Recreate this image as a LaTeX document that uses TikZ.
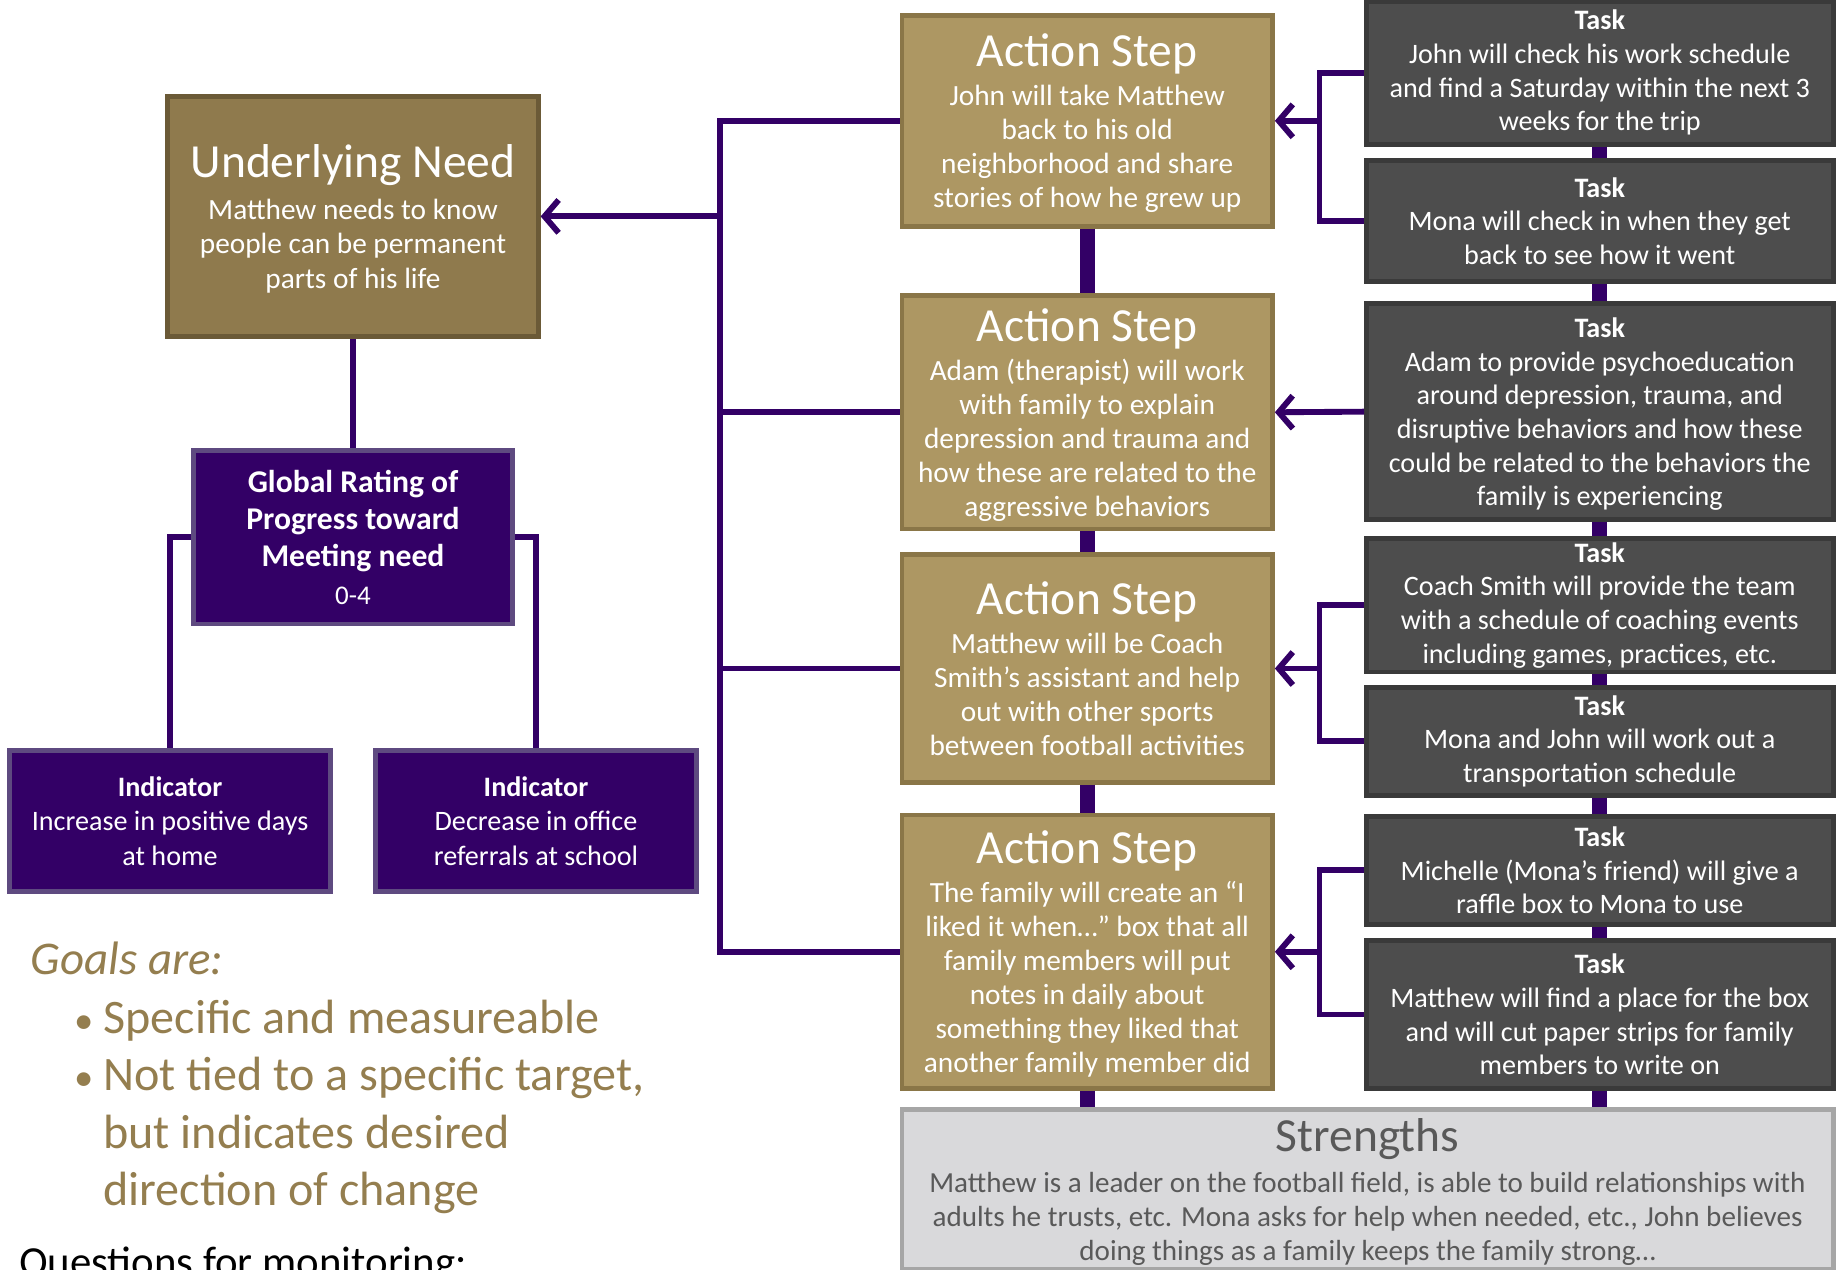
\documentclass[tikz,border=0pt]{standalone}
\usepackage{fontspec}
\setmainfont{Carlito}
\usetikzlibrary{arrows.meta,positioning}

\definecolor{needfill}{RGB}{143,122,77}
\definecolor{needline}{RGB}{107,90,55}
\definecolor{stepfill}{RGB}{173,151,99}
\definecolor{stepline}{RGB}{138,118,72}
\definecolor{purp}{RGB}{51,0,102}
\definecolor{purpline}{RGB}{94,74,128}
\definecolor{taskfill}{RGB}{77,77,77}
\definecolor{taskline}{RGB}{58,58,58}
\definecolor{strfill}{RGB}{217,217,219}
\definecolor{strline}{RGB}{166,166,166}
\definecolor{strtext}{RGB}{89,89,89}
\definecolor{goaltext}{RGB}{148,126,79}

\newcommand\cardbody{\fontsize{25}{29}\selectfont}
\newcommand\cardtitle{\fontsize{40.5}{40.5}\selectfont}
\newcommand\taskbody{\fontsize{24}{28.7}\selectfont}
\newcommand\goalbullet{\makebox[28pt][l]{\hspace{3pt}\fontsize{33}{33}\selectfont•}}

\begin{document}
\begin{tikzpicture}[x=1pt,y=-1pt,
  every node/.style={align=center, inner sep=0pt},
  card/.style={draw, line width=4pt, text=white, font=\cardbody},
  needbox/.style={card, fill=needfill, draw=needline, minimum width=316pt, minimum height=205pt, text depth=-8pt},
  ratebox/.style={card, fill=purp, draw=purpline, minimum width=272pt, minimum height=148pt, font=\fontsize{27}{31.8}\selectfont\bfseries, text depth=-4pt},
  indbox/.style={card, fill=purp, draw=purpline, minimum width=274pt, minimum height=120pt, font=\fontsize{24}{29.5}\selectfont, text depth=-5pt},
  stepbox/.style={card, fill=stepfill, draw=stepline, minimum width=316pt, text depth=-13pt},
  taskbox/.style={card, fill=taskfill, draw=taskline, minimum width=398pt, font=\taskbody},
  strbox/.style={card, fill=strfill, draw=strline, text=strtext, minimum width=794pt, minimum height=136pt, font=\fontsize{24.8}{29}\selectfont, text depth=-1pt},
  link/.style={draw=purp, line width=5pt},
  arrowlink/.style={link, -{Straight Barb[length=12pt,width=28pt]}},
  stepspine/.style={draw=purp, line width=13pt},
  taskspine/.style={draw=purp, line width=13pt},
  goalline/.style={text=goaltext, font=\fontsize{41}{49}\selectfont, align=left, anchor=base west}
]
\useasboundingbox (0,0) rectangle (1568,1082);

% left side
\node[needbox] (need) at (301,184.5) {{\cardtitle Underlying Need}\\[7pt]Matthew needs to know\\people can be permanent\\parts of his life};
\node[ratebox] (rate) at (301,458) {Global Rating of\\Progress toward\\Meeting need\\{\mdseries\fontsize{23}{28}\selectfont 0-4}};
\node[indbox] (ind1) at (145,700) {\textbf{Indicator}\\Increase in positive days\\at home};
\node[indbox] (ind2) at (457,700) {\textbf{Indicator}\\Decrease in office\\referrals at school};

% action steps
\node[stepbox, minimum height=180pt, text depth=-6pt] (step1) at (927,103) {{\cardtitle Action Step}\\[4pt]John will take Matthew\\back to his old\\neighborhood and share\\stories of how he grew up};
\node[stepbox, minimum height=199pt] (step2) at (927,351.5) {{\cardtitle Action Step}\\[4pt]Adam (therapist) will work\\with family to explain\\depression and trauma and\\how these are related to the\\aggressive behaviors};
\node[stepbox, minimum height=194pt, text depth=-8pt] (step3) at (927,570) {{\cardtitle Action Step}\\[4pt]Matthew will be Coach\\Smith’s assistant and help\\out with other sports\\between football activities};
\node[stepbox, minimum height=233pt] (step4) at (927,811.5) {{\cardtitle Action Step}\\[4pt]The family will create an “I\\liked it when…” box that all\\family members will put\\notes in daily about\\something they liked that\\another family member did};

% tasks
\node[taskbox, minimum height=122pt] (task1) at (1364,62) {\textbf{Task}\\John will check his work schedule\\and find a Saturday within the next 3\\weeks for the trip};
\node[taskbox, minimum height=103pt] (task2) at (1364,188.5) {\textbf{Task}\\Mona will check in when they get\\back to see how it went};
\node[taskbox, minimum height=184pt, text depth=-2pt] (task3) at (1364,351) {\textbf{Task}\\Adam to provide psychoeducation\\around depression, trauma, and\\disruptive behaviors and how these\\could be related to the behaviors the\\family is experiencing};
\node[taskbox, minimum height=114pt] (task4) at (1364,516) {\textbf{Task}\\Coach Smith will provide the team\\with a schedule of coaching events\\including games, practices, etc.};
\node[taskbox, minimum height=92pt] (task5) at (1364,632) {\textbf{Task}\\Mona and John will work out a\\transportation schedule};
\node[taskbox, minimum height=92pt] (task6) at (1364,742) {\textbf{Task}\\Michelle (Mona’s friend) will give a\\raffle box to Mona to use};
\node[taskbox, minimum height=126pt] (task7) at (1364,865) {\textbf{Task}\\Matthew will find a place for the box\\and will cut paper strips for family\\members to write on};

% strengths
\node[strbox] (strength) at (1166,1014) {{\cardtitle Strengths}\\[6pt]Matthew is a leader on the football field, is able to build relationships with\\adults he trusts, etc. Mona asks for help when needed, etc., John believes\\doing things as a family keeps the family strong…};

% goals text
\node[goalline] (goalhead) at (26,831) {\itshape\fontsize{40}{45}\selectfont Goals are:};
\node[goalline] (goallist) at (60,1028) {\goalbullet Specific and measureable\\\goalbullet Not tied to a specific target,\\\hspace*{28pt}but indicates desired\\\hspace*{28pt}direction of change};
\node[anchor=base west, font=\fontsize{36.5}{42}\selectfont] (questions) at (16,1088) {Questions for monitoring:};

% connectors
\coordinate (bus) at (614,0);
\coordinate (brk) at (1125,0);
\draw[link] (need) -- (rate);
\draw[link] (rate.west) -| (ind1.north);
\draw[link] (rate.east) -| (ind2.north);
\draw[link] (step1.west) -| (bus |- step4.west) -- (step4.west);
\draw[link] (step2.west) -- (bus |- step2.west);
\draw[link] (step3.west) -- (bus |- step3.west);
\draw[arrowlink] (bus |- need.east) -- (need.east);
\draw[stepspine] (step1) -- (step2);
\draw[stepspine] (step2) -- (step3);
\draw[stepspine] (step3) -- (step4);
\draw[stepspine] (step4.south) -- (step4.south |- strength.north);
\foreach \a/\b in {task1/task2,task2/task3,task3/task4,task4/task5,task5/task6,task6/task7}
  \draw[taskspine] (\a.south) -- (\b.north);
\draw[taskspine] (task7.south) -- (task7.south |- strength.north);
\draw[link] (task1.west) -| (brk |- task2.west) -- (task2.west);
\draw[arrowlink] (brk |- step1.east) -- (step1.east);
\draw[arrowlink] (task3.west) -- (step2.east);
\draw[link] (task4.west) -| (brk |- task5.west) -- (task5.west);
\draw[arrowlink] (brk |- step3.east) -- (step3.east);
\draw[link] (task6.west) -| (brk |- task7.west) -- (task7.west);
\draw[arrowlink] (brk |- step4.east) -- (step4.east);
\end{tikzpicture}
\end{document}
